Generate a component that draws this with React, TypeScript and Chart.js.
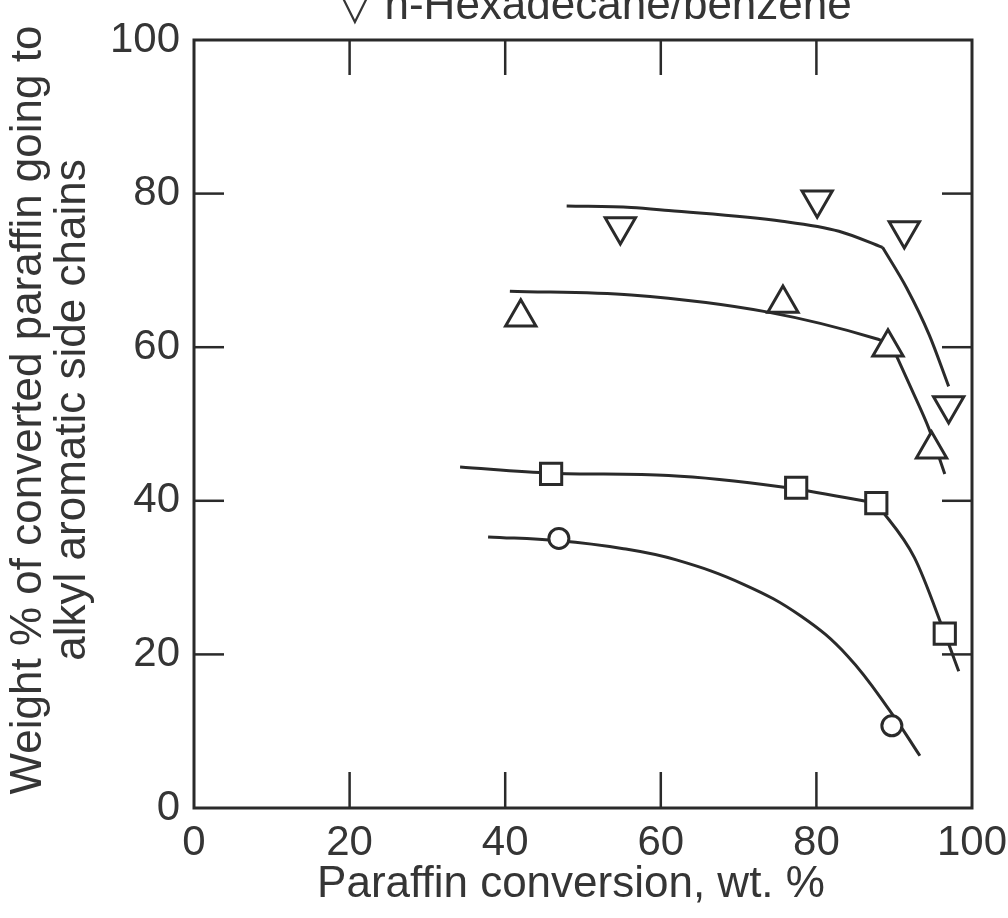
import React, { useEffect, useRef } from "react";
import { Chart, registerables } from "chart.js";

Chart.register(...registerables);

// ---- data ----
const xTickValues = [0, 20, 40, 60, 80, 100];
const yTickValues = [0, 20, 40, 60, 80, 100];
const innerXTicks = [20, 40, 60, 80];
const innerYTicks = [20, 40, 60, 80];

const titleText = "▽ n-Hexadecane/benzene";
const xTitle = "Paraffin conversion, wt. %";
const yTitleLines = ["Weight % of converted paraffin going to", "alkyl aromatic side chains"];

// markers
const downX = [54.8, 80.1, 91.3, 97.0];
const downY = [75.7, 79.2, 75.2, 52.4];
const upX = [42.0, 75.7, 89.2, 94.8];
const upY = [63.9, 65.7, 60.0, 46.7];
const squareX = [45.9, 77.4, 87.7, 96.5];
const squareY = [43.5, 41.7, 39.7, 22.7];
const circleX = [46.9, 89.7];
const circleY = [35.1, 10.7];

// hand-drawn fitted curves (flat part + steep tail)
const downCurveX = [47.9, 56.2, 61.0, 75.6, 82.9, 88.5];
const downCurveY = [78.4, 78.2, 77.8, 76.4, 75.1, 73.0];
const downTailX = [88.5, 91.6, 94.5, 97.0];
const downTailY = [73.0, 67.7, 61.6, 54.9];
const upCurveX = [40.6, 56.2, 73.6, 87.7, 89.6];
const upCurveY = [67.3, 66.8, 64.6, 61.1, 60.4];
const upTailX = [89.6, 92.2, 94.5, 96.5];
const upTailY = [60.4, 54.6, 49.3, 43.5];
const squareCurveX = [34.2, 45.9, 61.0, 75.6, 87.7];
const squareCurveY = [44.4, 43.6, 43.3, 41.8, 39.7];
const squareTailX = [87.7, 92.6, 96.5, 98.3];
const squareTailY = [39.7, 32.6, 22.7, 17.8];
const circleCurveX = [37.8, 46.9, 55.0, 62.0, 70.7, 78.0, 84.0, 89.7, 93.3];
const circleCurveY = [35.3, 34.8, 33.8, 32.3, 29.1, 25.0, 19.8, 12.3, 6.8];

const INK = "#2a2a2a";
const TEXT = "#353535";
const FONT = "'Liberation Sans', Arial, sans-serif";

const pts = (xs: number[], ys: number[]) => xs.map((x, i) => ({ x, y: ys[i] }));

const framePlugin = {
  id: "frameAndTitles",
  afterDraw(chart: any) {
    const { ctx, chartArea: a, scales } = chart;
    const xs = scales.x;
    const ys = scales.y;
    ctx.save();
    ctx.strokeStyle = INK;
    ctx.lineWidth = 3;
    ctx.strokeRect(a.left, a.top, a.right - a.left, a.bottom - a.top);
    ctx.lineWidth = 2.5;
    const seg = (x1: number, y1: number, x2: number, y2: number) => {
      ctx.beginPath();
      ctx.moveTo(x1, y1);
      ctx.lineTo(x2, y2);
      ctx.stroke();
    };
    for (const v of innerXTicks) {
      const px = xs.getPixelForValue(v);
      seg(px, a.top, px, a.top + 35);
      seg(px, a.bottom, px, a.bottom - 36);
    }
    for (const v of innerYTicks) {
      const py = ys.getPixelForValue(v);
      seg(a.left, py, a.left + 30, py);
      seg(a.right, py, a.right - 30, py);
    }
    // titles
    ctx.fillStyle = TEXT;
    ctx.textAlign = "center";
    ctx.textBaseline = "alphabetic";
    ctx.font = `44px ${FONT}`;
    ctx.fillText(titleText, 595, 19);
    ctx.textBaseline = "middle";
    ctx.fillText(xTitle, 571, 885);
    ctx.translate(0, 410);
    ctx.rotate(-Math.PI / 2);
    ctx.fillText(yTitleLines[0], 0, 29);
    ctx.fillText(yTitleLines[1], 0, 73);
    ctx.restore();
  },
};

export default function App() {
  const ref = useRef<HTMLCanvasElement | null>(null);
  useEffect(() => {
    if (!ref.current) return;
    const markerCommon = {
      showLine: false,
      borderColor: INK,
      backgroundColor: "#ffffff",
      pointBorderColor: INK,
      pointBackgroundColor: "#ffffff",
      pointBorderWidth: 3,
      order: 0,
    };
    const lineCommon = {
      type: "line",
      borderColor: INK,
      borderWidth: 3,
      pointRadius: 0,
      fill: false,
      cubicInterpolationMode: "monotone",
      order: 1,
    };
    const chart = new Chart(ref.current, {
      type: "scatter",
      data: {
        datasets: [
          { ...markerCommon, data: pts(downX, downY), pointStyle: "triangle", pointRadius: 17.5, pointRotation: 180 },
          { ...markerCommon, data: pts(upX, upY), pointStyle: "triangle", pointRadius: 17.5 },
          { ...markerCommon, data: pts(squareX, squareY), pointStyle: "rect", pointRadius: 15 },
          { ...markerCommon, data: pts(circleX, circleY), pointStyle: "circle", pointRadius: 10 },
          { ...lineCommon, data: pts(downCurveX, downCurveY) },
          { ...lineCommon, data: pts(downTailX, downTailY) },
          { ...lineCommon, data: pts(upCurveX, upCurveY) },
          { ...lineCommon, data: pts(upTailX, upTailY) },
          { ...lineCommon, data: pts(squareCurveX, squareCurveY) },
          { ...lineCommon, data: pts(squareTailX, squareTailY) },
          { ...lineCommon, data: pts(circleCurveX, circleCurveY), cubicInterpolationMode: "default", tension: 0.4 },
        ] as any,
      },
      options: {
        responsive: false,
        maintainAspectRatio: false,
        animation: false,
        layout: { padding: { left: 0, right: 36, top: 40, bottom: 0 } },
        plugins: { legend: { display: false }, tooltip: { enabled: false } },
        scales: {
          x: {
            type: "linear",
            min: 0,
            max: 100,
            afterBuildTicks: (s: any) => {
              s.ticks = xTickValues.map((v) => ({ value: v }));
            },
            ticks: { font: { size: 42, family: FONT }, color: TEXT, padding: 10, maxRotation: 0, autoSkip: false },
            grid: { display: false, drawTicks: false },
            border: { display: false },
            afterFit: (s: any) => {
              s.height = 110;
              s.paddingLeft = 0;
              s.paddingRight = 0;
            },
          },
          y: {
            type: "linear",
            min: 0,
            max: 100,
            afterBuildTicks: (s: any) => {
              s.ticks = yTickValues.map((v) => ({ value: v }));
            },
            ticks: { font: { size: 42, family: FONT }, color: TEXT, padding: 14, autoSkip: false },
            grid: { display: false, drawTicks: false },
            border: { display: false },
            afterFit: (s: any) => {
              s.width = 194;
              s.paddingTop = 0;
              s.paddingBottom = 0;
            },
          },
        },
      } as any,
      plugins: [framePlugin],
    });
    return () => chart.destroy();
  }, []);
  return (
    <div style={{ position: "absolute", left: 0, top: 0, width: 1008, height: 918, background: "#fff" }}>
      <canvas ref={ref} width={1008} height={918} style={{ display: "block", width: 1008, height: 918 }} />
    </div>
  );
}
